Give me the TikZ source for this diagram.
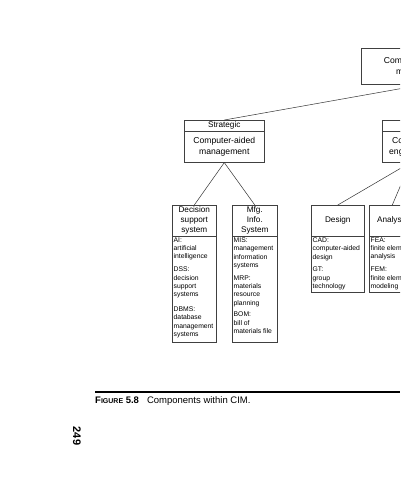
\documentclass[tikz,border=0pt]{standalone}
\usepackage{fontspec}
\setmainfont{Liberation Sans}
\begin{document}
\begin{tikzpicture}[x=1pt,y=-1pt,
  box/.style={draw=black!75, line width=0.6pt, inner sep=0pt, anchor=north west},
  bigtxt/.style={font=\fontsize{8.6}{11}\selectfont},
  headtxt/.style={font=\fontsize{8.2}{10}\selectfont, align=center},
  smalltxt/.style={font=\fontsize{6.8}{8.3}\selectfont, align=left, anchor=north west, inner sep=0pt},
  link/.style={draw=black!80, line width=0.5pt}]
\clip (0,0) rectangle (400,480);
\fill[white] (0,0) rectangle (400,480);
% top
\node[box, minimum width=124pt, minimum height=36pt, align=center, bigtxt] (cim) at (361,48) {Computer-integrated\\manufacturing};
% strategic
\node[box, minimum width=80pt, minimum height=11pt, headtxt] (strath) at (184,120) {Strategic};
\node[box, minimum width=80pt, minimum height=31pt, align=center, bigtxt] (stratb) at (184,131) {Computer-aided\\management};
% engineering
\node[box, minimum width=80pt, minimum height=11pt] (engh) at (382,120) {};
\node[box, minimum width=80pt, minimum height=31pt] (engb) at (382,131) {};
\node[bigtxt, align=left, anchor=west, inner sep=0pt] (engt) at (389,146.5) {\hspace*{3pt}Computer-aided\\engineering};
% decision support
\node[box, minimum width=44pt, minimum height=31pt, headtxt] (dssh) at (172,205) {Decision\\support\\system};
\node[box, minimum width=44pt, minimum height=106pt] (dssb) at (172,236) {};
\node[smalltxt] (dsst) at (173.5,237.5) {AI:\\artificial\\intelligence\\[4.5pt]DSS:\\decision\\support\\systems\\[6.5pt]DBMS:\\database\\management\\systems};
% mfg info
\node[box, minimum width=45pt, minimum height=31pt, headtxt] (mfgh) at (232,205) {Mfg.\\Info.\\System};
\node[box, minimum width=45pt, minimum height=106pt] (mfgb) at (232,236) {};
\node[smalltxt] (mfgt) at (233.5,237.5) {MIS:\\management\\information\\systems\\[4.5pt]MRP:\\materials\\resource\\planning\\[3.5pt]BOM:\\bill of\\materials file};
% design
\node[box, minimum width=53pt, minimum height=31pt, headtxt] (desh) at (311,205) {Design};
\node[box, minimum width=53pt, minimum height=56pt] (desb) at (311,236) {};
\node[smalltxt] (dest) at (312.5,237.5) {CAD:\\computer-aided\\design\\[4.5pt]GT:\\group\\technology};
% analysis
\node[box, minimum width=46pt, minimum height=31pt, headtxt] (anah) at (369,205) {Analysis};
\node[box, minimum width=46pt, minimum height=56pt] (anab) at (369,236) {};
\node[smalltxt] (anat) at (370.5,237.5) {FEA:\\finite element\\analysis\\[4.5pt]FEM:\\finite element\\modeling};
% connectors
\draw[link] (strath.north) -- (cim.south);
\draw[link] (stratb.south) -- (dssh.north);
\draw[link] (stratb.south) -- (mfgh.north);
\coordinate (engapex) at ([xshift=-12pt]engb.south);
\draw[link] (engapex) -- (desh.north);
\draw[link] (engapex) -- (anah.north);
% caption
\draw[line width=1.1pt] (95,392) -- (400,392);
\node[anchor=base west, inner sep=0pt, font=\fontsize{9.5}{10}\selectfont] (cap) at (95,403) {\textbf{F{\fontsize{7}{8}\selectfont IGURE} 5.8}\hspace{8pt}Components within CIM.};
\node[rotate=-90, inner sep=0pt, font=\bfseries\fontsize{11}{11}\selectfont] (pg) at (77,436) {249};
\end{tikzpicture}
\end{document}
